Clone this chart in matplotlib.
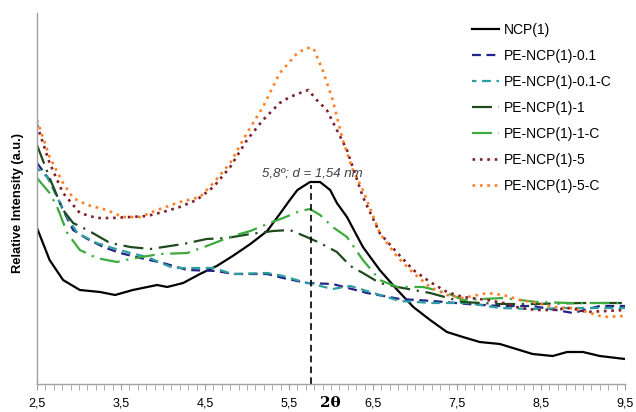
import matplotlib
matplotlib.use("Agg")
import matplotlib.pyplot as plt

# ---- data (2theta, relative intensity a.u.) ----
x_ncp = [2.5, 2.65, 2.81, 3.01, 3.25, 3.43, 3.64, 3.93, 4.05, 4.24, 4.44, 4.64, 4.83, 5.04, 5.24, 5.39, 5.51,
         5.60, 5.75, 5.87, 5.99, 6.07, 6.19, 6.38, 6.58, 6.79, 6.98, 7.18, 7.38, 7.57, 7.77, 8.01, 8.40, 8.64,
         8.81, 9.00, 9.20, 9.5]
y_ncp = [156, 124, 104, 94, 92, 89, 94, 99, 97, 101, 110, 118, 128, 140, 153, 170, 184,
         194, 202, 202, 194, 181, 167, 137, 114, 94, 77, 64, 52, 47, 42, 40, 30, 28,
         32, 32, 28, 25]

x_01 = [2.5, 2.65, 2.81, 2.93, 3.10, 3.29, 3.49, 3.73, 4.00, 4.29, 4.64, 4.83, 5.24, 5.43, 5.71, 6.02, 6.43,
        6.82, 7.21, 7.62, 8.01, 8.40, 8.88, 9.20, 9.5]
y_01 = [221, 204, 174, 154, 145, 137, 131, 126, 121, 114, 113, 110, 110, 106, 101, 100, 91,
        85, 83, 80, 78, 78, 71, 78, 78]

x_01c = [2.5, 2.62, 2.74, 2.86, 2.98, 3.21, 3.40, 3.61, 3.81, 4.12, 4.60, 4.83, 5.24, 5.43, 5.63, 6.02, 6.23,
         6.82, 7.21, 7.62, 8.01, 8.40, 8.81, 9.5]
y_01c = [216, 207, 187, 167, 151, 141, 136, 131, 127, 116, 116, 110, 111, 108, 103, 95, 98,
         83, 81, 81, 76, 75, 76, 76]

x_1 = [2.5, 2.65, 2.81, 2.93, 3.10, 3.37, 3.61, 3.85, 4.24, 4.52, 4.76, 5.04, 5.31, 5.51, 5.71, 5.87, 6.07,
       6.23, 6.38, 6.58, 6.79, 7.18, 7.57, 8.01, 8.40, 9.00, 9.5]
y_1 = [239, 206, 174, 161, 154, 141, 137, 135, 140, 145, 146, 150, 153, 154, 147, 141, 132,
       118, 111, 101, 97, 91, 82, 80, 80, 81, 81]

x_1c = [2.5, 2.65, 2.74, 2.86, 3.01, 3.21, 3.45, 3.61, 3.96, 4.29, 4.52, 4.83, 5.04, 5.24, 5.43, 5.63, 5.75,
        5.87, 6.02, 6.19, 6.38, 6.58, 6.79, 7.10, 7.38, 7.57, 8.05, 8.45, 8.85, 9.5]
y_1c = [206, 191, 177, 151, 134, 126, 122, 125, 130, 131, 138, 148, 153, 160, 166, 173, 175,
        169, 157, 147, 124, 104, 97, 97, 91, 84, 86, 82, 81, 81]

x_5 = [2.5, 2.65, 2.81, 3.01, 3.21, 3.40, 3.61, 3.81, 4.00, 4.20, 4.40, 4.60, 4.80, 5.00, 5.19, 5.39, 5.51,
       5.63, 5.73, 5.83, 5.95, 6.07, 6.19, 6.38, 6.58, 6.79, 6.98, 7.18, 7.38, 7.57, 7.86, 8.05, 8.25, 8.45,
       8.64, 8.85, 9.05, 9.5]
y_5 = [259, 221, 191, 171, 166, 166, 167, 168, 172, 177, 184, 197, 217, 244, 264, 281, 287,
       291, 294, 284, 274, 254, 234, 187, 151, 131, 114, 102, 92, 87, 84, 81, 76, 74,
       74, 76, 72, 74]

x_5c = [2.5, 2.65, 2.81, 2.93, 3.10, 3.33, 3.52, 3.73, 3.93, 4.20, 4.44, 4.60, 4.80, 5.00, 5.19, 5.39, 5.60,
        5.71, 5.79, 5.90, 6.02, 6.14, 6.26, 6.38, 6.58, 6.79, 6.98, 7.18, 7.38, 7.57, 7.86, 8.05, 8.25, 8.45,
        8.64, 8.85, 9.05, 9.24, 9.5]
y_5c = [264, 227, 201, 186, 179, 174, 167, 167, 174, 182, 187, 201, 221, 251, 277, 311, 331,
        336, 336, 314, 284, 244, 214, 194, 151, 127, 111, 97, 89, 86, 91, 89, 84, 81,
        77, 76, 72, 67, 68]

labels = ["NCP(1)", "PE-NCP(1)-0.1", "PE-NCP(1)-0.1-C", "PE-NCP(1)-1", "PE-NCP(1)-1-C",
          "PE-NCP(1)-5", "PE-NCP(1)-5-C"]
xticks = [2.5, 3.5, 4.5, 5.5, 6.5, 7.5, 8.5, 9.5]
xticklabels = ["2,5", "3,5", "4,5", "5,5", "6,5", "7,5", "8,5", "9,5"]
peak_x = 5.76
annot = "5,8º; d = 1,54 nm"

fig = plt.figure(figsize=(6.36, 4.12), dpi=100)
ax = fig.add_axes([37/636, 28/412, 588/636, 371/412])

lw = 1.6
ax.plot(x_ncp, y_ncp, color="black", lw=lw, ls="-", label=labels[0])
ax.plot(x_01, y_01, color="#23238C", lw=lw, ls=(0, (4, 2.5)), label=labels[1])
ax.plot(x_01c, y_01c, color="#2E9E9E", lw=lw, ls=(2, (4, 2.5)), label=labels[2])
ax.plot(x_1, y_1, color="#1E4A1E", lw=lw, ls=(0, (9, 3, 1, 3)), label=labels[3])
ax.plot(x_1c, y_1c, color="#3DAA3D", lw=lw, ls=(0, (9, 3, 1, 3)), label=labels[4])
ax.plot(x_5, y_5, color="#7F1F2A", lw=lw + 0.3, ls=(0, (1, 1.8)), label=labels[5])
ax.plot(x_5c, y_5c, color="#FF7F27", lw=lw + 0.3, ls=(0, (1, 1.8)), label=labels[6])

ax.plot([peak_x, peak_x], [0, 199], color="black", lw=1.2, ls=(0, (4, 2.5)))
ax.text(peak_x + 0.02, 211, annot, style="italic", fontsize=9.5, color="#404040",
        family="Liberation Sans", ha="center", va="center")

ax.set_xlim(2.5, 9.5)
ax.set_ylim(0, 371)
ax.set_yticks([])
ax.set_xticks(xticks)
ax.set_xticklabels(xticklabels, family="Liberation Sans", fontsize=9)
ax.set_xticks([2.5 + 0.1 * i for i in range(71)], minor=True)
ax.tick_params(axis="x", which="both", direction="out", length=4, color="#A0A0A0", pad=6)
for s in ["top", "right"]:
    ax.spines[s].set_visible(False)
for s in ["left", "bottom"]:
    ax.spines[s].set_color("#A0A0A0")
    ax.spines[s].set_linewidth(1.0)

fig.text(18/636, 1 - 203/412, "Relative Intensity (a.u.)", rotation=90, ha="center", va="center",
         fontsize=9.3, fontweight="bold", family="Liberation Sans")
fig.text(330/636, 1 - 403/412, "2θ", ha="center", va="center", fontsize=11, fontweight="bold",
         family="DejaVu Serif")

leg = fig.legend(loc="upper left", bbox_to_anchor=(466/636, 1 - 17/412), frameon=False,
                 prop={"family": "Liberation Sans", "size": 10}, handlelength=2.0,
                 handletextpad=0.3, labelspacing=0.87, borderaxespad=0)

fig.savefig("out.png", dpi=100)
